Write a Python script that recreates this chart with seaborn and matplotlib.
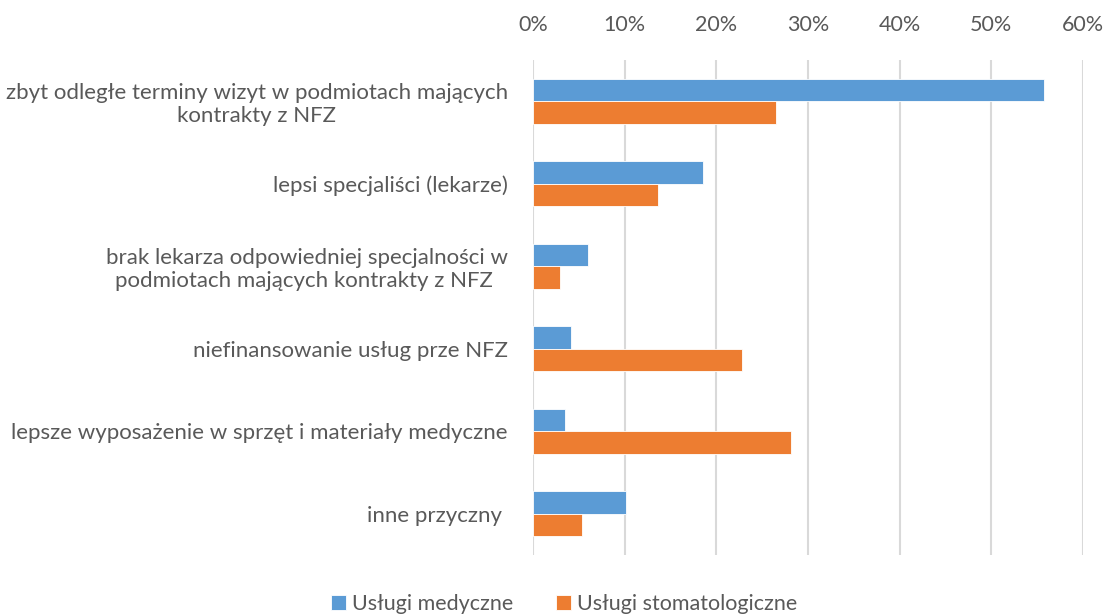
import seaborn as sns
from matplotlib import pyplot as plt
from matplotlib.ticker import PercentFormatter
import pandas as pd

categories = [
    'zbyt odległe terminy wizyt w podmiotach mających\nkontrakty z NFZ',
    'lepsi specjaliści (lekarze)',
    'brak lekarza odpowiedniej specjalności w\npodmiotach mających kontrakty z NFZ ',
    'niefinansowanie usług prze NFZ',
    'lepsze wyposażenie w sprzęt i materiały medyczne',
    'inne przyczny ',
]
medyczne = [55.7, 18.6, 6.0, 4.2, 3.5, 10.2]
stomatologiczne = [26.5, 13.6, 3.0, 22.8, 28.2, 5.4]
series = ['Usługi medyczne', 'Usługi stomatologiczne']
colors = ['#5B9BD5', '#ED7D31']

df = pd.DataFrame({
    'kategoria': categories * 2,
    'wartosc': medyczne + stomatologiczne,
    'seria': [series[0]] * len(categories) + [series[1]] * len(categories),
})

sns.set_style('white')
plt.rcParams['font.family'] = ['Lato', 'DejaVu Sans']
text_col = '#595959'
fs = 15.5

fig = plt.figure(figsize=(11.06, 6.15), dpi=100)
ax = fig.add_axes([0.4819, 0.0976, 0.4973, 0.8048])
sns.barplot(data=df, y='kategoria', x='wartosc', hue='seria', order=categories,
            palette=colors, width=0.54, ax=ax, orient='h', saturation=1,
            edgecolor='white', linewidth=0.6)

ax.set_xlim(0, 60)
ax.set_xticks(range(0, 61, 10))
ax.xaxis.set_major_formatter(PercentFormatter(decimals=0))
ax.xaxis.tick_top()
ax.grid(axis='x', color='#d9d9d9', linewidth=1.5)
ax.set_axisbelow(True)
for s in ax.spines.values():
    s.set_visible(False)
ax.set_xlabel('')
ax.set_ylabel('')
ax.tick_params(axis='x', length=0, pad=18, labelsize=fs, labelcolor=text_col)
ax.tick_params(axis='y', length=0, pad=18, labelsize=16, labelcolor=text_col)
for t in ax.get_yticklabels():
    t.set_multialignment('center')

ax.get_legend().remove()
handles, labels = ax.get_legend_handles_labels()
fig.legend(handles, labels, loc='lower center', bbox_to_anchor=(0.51, -0.03), ncol=2,
           frameon=False, fontsize=fs, labelcolor=text_col, handlelength=0.7,
           handleheight=0.7, handletextpad=0.25, columnspacing=2.0)

plt.savefig('out.png', dpi=100)
